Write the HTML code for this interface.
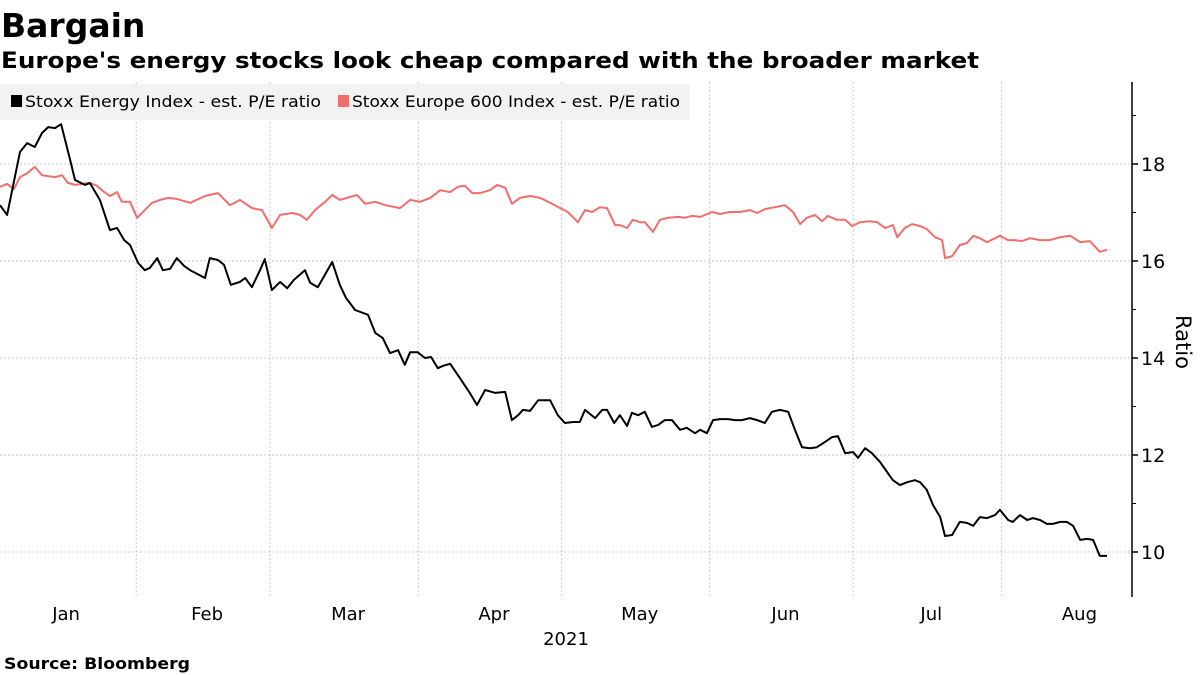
<!DOCTYPE html>
<html><head><meta charset="utf-8">
<style>
html,body{margin:0;padding:0;background:#fff;width:1200px;height:675px;overflow:hidden;font-family:"Liberation Sans","DejaVu Sans",sans-serif;}
svg{display:block}
</style></head>
<body>
<svg id="chart" width="1200" height="675" viewBox="0 0 1200 675" xmlns="http://www.w3.org/2000/svg">
<text x="1" y="37" font-family="'DejaVu Sans','Liberation Sans',sans-serif" font-weight="bold" font-size="33" fill="#000">Bargain</text>
<text x="1" y="68" font-family="'DejaVu Sans','Liberation Sans',sans-serif" font-weight="bold" font-size="22.5" fill="#000" textLength="978" lengthAdjust="spacingAndGlyphs">Europe's energy stocks look cheap compared with the broader market</text>
<g id="grid"></g>
<rect x="0" y="84" width="690" height="36" fill="#f2f2f2"/>
<g>
<rect x="11" y="95" width="11" height="12" fill="#000"/>
<text x="25" y="107" font-family="'DejaVu Sans','Liberation Sans',sans-serif" font-size="16" fill="#000" textLength="296" lengthAdjust="spacingAndGlyphs">Stoxx Energy Index - est. P/E ratio</text>
</g>
<g>
<rect x="338" y="95" width="11" height="12" fill="#f26d6d"/>
<text x="352" y="107" font-family="'DejaVu Sans','Liberation Sans',sans-serif" font-size="16" fill="#000" textLength="328" lengthAdjust="spacingAndGlyphs">Stoxx Europe 600 Index - est. P/E ratio</text>
</g>
<g id="axes"></g>
<g id="series"></g>
<text x="566" y="645" text-anchor="middle" font-family="'DejaVu Sans','Liberation Sans',sans-serif" font-size="18" fill="#000">2021</text>
<text transform="translate(1176,342) rotate(90)" text-anchor="middle" font-family="'DejaVu Sans','Liberation Sans',sans-serif" font-size="21" fill="#000">Ratio</text>
<text x="4" y="669" font-family="'DejaVu Sans','Liberation Sans',sans-serif" font-weight="bold" font-size="16" fill="#000" textLength="186" lengthAdjust="spacingAndGlyphs">Source:  Bloomberg</text>
</svg>
<script>
const energyDays=[2.5,4.0,6.7,8.2,9.8,11.3,12.6,14.0,15.3,17.2,18.2,20.3,21.3,23.4,25.5,27.0,28.5,29.7,31.4,32.8,33.9,35.4,36.6,38.1,39.5,41.0,42.3,45.4,46.4,48.1,49.4,50.8,52.7,53.8,55.2,56.9,57.9,59.4,61.1,62.6,64.0,66.3,67.4,69.0,72.0,73.6,74.9,76.8,79.5,81.0,82.6,84.1,85.8,87.2,88.3,89.9,91.4,92.7,94.1,95.2,96.7,98.7,100.8,102.3,104.0,106.1,108.2,109.6,110.9,111.9,113.4,115.1,117.6,119.2,120.7,122.4,123.8,124.9,127.0,128.5,129.5,131.0,132.2,133.7,134.7,136.0,137.4,138.9,140.2,141.6,143.1,144.8,146.2,147.9,149.0,150.4,151.7,153.1,154.8,156.3,157.7,159.4,160.9,162.5,164.0,165.7,167.4,168.8,170.3,172.0,173.4,175.1,176.6,177.8,179.3,181.0,182.0,183.5,184.9,186.6,188.1,189.3,190.8,192.3,193.9,195.0,196.4,197.7,199.2,200.2,201.7,203.3,204.8,206.1,207.5,209.0,210.7,211.7,213.4,214.4,215.9,217.4,218.6,220.1,221.5,222.8,224.3,225.7,227.0,228.5,229.9,231.2,232.6,234.1];
const energyValues=[17.15,16.95,18.25,18.43,18.35,18.64,18.76,18.74,18.82,18.08,17.67,17.57,17.61,17.26,16.64,16.68,16.43,16.33,15.96,15.81,15.86,16.06,15.81,15.84,16.06,15.90,15.81,15.65,16.06,16.02,15.92,15.51,15.57,15.65,15.46,15.81,16.04,15.40,15.57,15.44,15.61,15.81,15.55,15.46,15.98,15.51,15.24,14.99,14.89,14.52,14.41,14.10,14.16,13.86,14.12,14.12,14.00,14.02,13.79,13.84,13.88,13.59,13.28,13.03,13.34,13.28,13.30,12.72,12.82,12.93,12.91,13.13,13.13,12.82,12.66,12.68,12.68,12.93,12.76,12.93,12.93,12.66,12.82,12.60,12.87,12.82,12.89,12.58,12.62,12.72,12.72,12.52,12.56,12.45,12.52,12.45,12.72,12.74,12.74,12.72,12.72,12.76,12.72,12.66,12.89,12.93,12.89,12.52,12.16,12.14,12.16,12.27,12.37,12.39,12.04,12.06,11.94,12.14,12.04,11.86,11.65,11.48,11.38,11.44,11.48,11.44,11.28,10.97,10.72,10.33,10.35,10.62,10.60,10.54,10.72,10.70,10.76,10.87,10.66,10.62,10.76,10.66,10.70,10.66,10.58,10.58,10.62,10.62,10.54,10.25,10.27,10.25,9.92,9.92];
const stoxxDays=[2.5,4.0,5.4,6.7,8.2,9.8,11.3,12.6,14.0,15.5,16.7,18.2,19.7,21.3,22.8,24.3,25.5,27.0,28.0,29.7,31.2,32.8,34.3,36.0,37.7,39.5,42.3,45.4,48.1,50.6,52.7,55.2,57.3,59.4,61.1,63.6,65.3,66.7,68.4,70.5,72.0,73.6,75.7,77.2,78.9,81.0,83.1,86.2,88.3,90.4,92.5,94.6,96.7,98.3,99.8,101.3,102.9,105.0,106.5,108.2,109.6,111.3,113.4,115.5,117.6,119.7,121.3,123.4,124.9,126.4,128.0,129.5,131.2,132.2,133.7,134.9,136.4,137.4,139.1,140.6,142.3,144.4,145.8,147.3,149.0,150.0,151.5,153.1,155.2,157.3,159.4,160.9,162.5,164.6,166.7,168.4,169.9,171.3,173.0,174.5,175.7,177.6,179.3,180.8,182.4,184.5,186.0,187.7,189.3,190.2,191.8,193.3,195.0,196.4,198.1,199.6,200.2,201.7,203.3,204.8,206.1,207.5,209.0,210.7,211.7,213.4,214.9,216.3,218.0,220.1,222.2,224.3,226.4,228.5,230.5,232.6,234.1];
const stoxxValues=[17.53,17.59,17.48,17.73,17.81,17.94,17.77,17.75,17.73,17.77,17.61,17.57,17.59,17.61,17.55,17.42,17.34,17.42,17.22,17.22,16.89,17.05,17.20,17.26,17.30,17.28,17.20,17.34,17.40,17.15,17.26,17.09,17.05,16.68,16.95,16.99,16.95,16.85,17.05,17.22,17.36,17.26,17.32,17.36,17.18,17.22,17.15,17.09,17.26,17.22,17.30,17.46,17.42,17.53,17.55,17.40,17.40,17.46,17.57,17.51,17.18,17.30,17.34,17.30,17.20,17.09,17.01,16.80,17.05,17.01,17.11,17.09,16.74,16.74,16.68,16.85,16.80,16.80,16.60,16.85,16.89,16.91,16.89,16.93,16.91,16.95,17.01,16.97,17.01,17.01,17.05,16.99,17.07,17.11,17.15,17.01,16.76,16.89,16.95,16.82,16.93,16.85,16.85,16.72,16.80,16.82,16.80,16.68,16.74,16.49,16.68,16.76,16.72,16.66,16.49,16.43,16.06,16.10,16.33,16.37,16.52,16.47,16.39,16.47,16.52,16.43,16.43,16.41,16.47,16.43,16.43,16.49,16.52,16.39,16.41,16.19,16.23];
const monthLabels=["Jan","Feb","Mar","Apr","May","Jun","Jul","Aug"];
const monthStarts=[0,31,59,90,120,151,181,212];
const yTicks=[10,12,14,16,18];
const yMinorTicks=[11,13,15,17,19];

const NS="http://www.w3.org/2000/svg";
const axisX=1132, plotTop=82, plotBottom=597;
function xScale(d){return -12+d*4.78;}
function yScale(v){return 552-(v-10)*48.5;}
function mk(tag,attrs,parent){const e=document.createElementNS(NS,tag);for(const k in attrs)e.setAttribute(k,attrs[k]);parent.appendChild(e);return e;}
const grid=document.getElementById('grid'), axes=document.getElementById('axes'), series=document.getElementById('series');

yTicks.forEach(v=>{
  const l=mk('line',{x1:0,x2:axisX,y1:yScale(v),y2:yScale(v),stroke:'#c8c8c8','stroke-width':1,'stroke-dasharray':'2,2'},grid);
  
  
  const t=mk('line',{x1:axisX,x2:axisX+6,y1:yScale(v),y2:yScale(v),stroke:'#000','stroke-width':1.5},axes);
  
  
  const lb=mk('text',{x:axisX+9,y:yScale(v)+7,'font-size':19,'font-family':"'DejaVu Sans','Liberation Sans',sans-serif",fill:'#000'},axes);
  lb.textContent=v;
  
  
});
yMinorTicks.forEach(v=>{
  const t=mk('line',{x1:axisX,x2:axisX+4,y1:yScale(v),y2:yScale(v),stroke:'#000','stroke-width':1},axes);
  
  
});
monthStarts.forEach((d,i)=>{
  if(i>0){
    const g=mk('line',{x1:xScale(d),x2:xScale(d),y1:plotTop,y2:plotBottom,stroke:'#c8c8c8','stroke-width':1,'stroke-dasharray':'2,2'},grid);
    
    
  }
  const next=i<monthStarts.length-1?monthStarts[i+1]:d+31;
  const lb=mk('text',{x:xScale((d+next)/2)+4,y:620,'text-anchor':'middle','font-size':18,'font-family':"'DejaVu Sans','Liberation Sans',sans-serif",fill:'#000'},axes);
  lb.textContent=monthLabels[i];
  
  
});
const ax=mk('line',{x1:axisX,x2:axisX,y1:plotTop,y2:plotBottom,stroke:'#000','stroke-width':1.5},axes);



function path(days,vals){return days.map((d,i)=>(i?'L':'M')+xScale(d).toFixed(1)+','+yScale(vals[i]).toFixed(1)).join(' ');}
const p2=mk('path',{d:path(stoxxDays,stoxxValues),fill:'none',stroke:'#f26d6d','stroke-width':2,'stroke-linejoin':'round'},series);


const p1=mk('path',{d:path(energyDays,energyValues),fill:'none',stroke:'#000','stroke-width':2,'stroke-linejoin':'round'},series);


</script>
</body></html>
